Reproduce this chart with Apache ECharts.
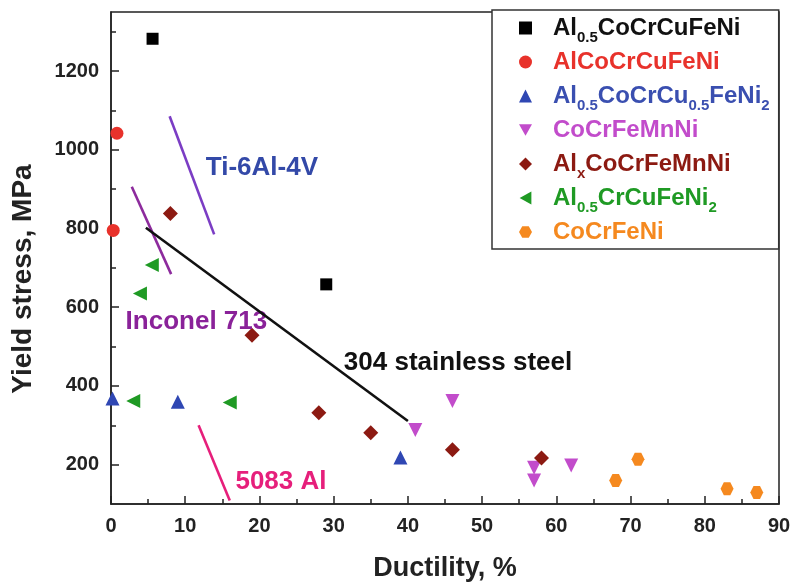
<!DOCTYPE html>
<html>
<head>
<meta charset="utf-8">
<title>Yield stress vs ductility</title>
<script src="https://cdn.jsdelivr.net/npm/echarts@6/dist/echarts.min.js"></script>
<style>
  html, body { margin: 0; padding: 0; background: #fff; }
  #chart { width: 791px; height: 582px; }
</style>
</head>
<body>
<div id="chart"></div>
<script>
// legend names, "_{..}" marks a subscript
const alloyNames = [
  'Al_{0.5}CoCrCuFeNi',
  'AlCoCrCuFeNi',
  'Al_{0.5}CoCrCu_{0.5}FeNi_{2}',
  'CoCrFeMnNi',
  'Al_{x}CoCrFeMnNi',
  'Al_{0.5}CrCuFeNi_{2}',
  'CoCrFeNi'
];

// [ductility %, yield stress MPa]
const al05CoCrCuFeNi = [[5.6, 1282], [29, 658]];
const alCoCrCuFeNi = [[0.8, 1042], [0.3, 795]];
const al05CoCrCu05FeNi2 = [[0.2, 368], [9, 360], [39, 218]];
const coCrFeMnNi = [[41, 288], [46, 362], [57, 192], [57, 160], [62, 198]];
const alxCoCrFeMnNi = [[8, 838], [19, 529], [28, 332], [35, 281], [46, 238], [58, 217]];
const al05CrCuFeNi2 = [[5.5, 707], [3.9, 635], [3, 362], [16, 358]];
const coCrFeNi = [[68, 160], [71, 214], [83, 139], [87, 129]];

// reference materials (line ends)
const refNames = ['Ti-6Al-4V', 'Inconel 713', '304 stainless steel', '5083 Al'];
const ti64Line = [[7.9, 1085], [13.9, 785]];
const inconelLine = [[2.8, 906], [8.1, 684]];
const ss304Line = [[4.7, 802], [40, 311]];
const al5083Line = [[11.8, 300], [16, 109]];
const refLabelAt = [[12.7, 954], [1.9, 563], [31.3, 458], [16.7, 156]];

const yLabelTicks = [200, 400, 600, 800, 1000, 1200];
const yMinorTicks = [300, 500, 700, 900, 1100, 1300];

const alloyData = [al05CoCrCuFeNi, alCoCrCuFeNi, al05CoCrCu05FeNi2, coCrFeMnNi,
  alxCoCrFeMnNi, al05CrCuFeNi2, coCrFeNi];
const refLines = [ti64Line, inconelLine, ss304Line, al5083Line];

const hexagon = 'path://M-1,0L-0.5,-0.866L0.5,-0.866L1,0L0.5,0.866L-0.5,0.866Z';
const triDown = 'path://M-1,-0.9L1,-0.9L0,0.9Z';
const triLeft = 'path://M0.9,-1L0.9,1L-0.9,0Z';
const alloyColors = ['#000000', '#e8322b', '#2f47b3', '#c24ccb', '#8c1a12', '#1f9a24', '#f5891f'];
const alloyTextColors = ['#111111', '#e8322b', '#3a4fb0', '#c24ccb', '#8c1a12', '#1f9a24', '#f5891f'];
const alloySymbols = ['rect', 'circle', 'triangle', triDown, 'diamond', triLeft, hexagon];
const alloySizes = [12, 13, 14, 14, 15, 14, 13];
const legendSizes = [11, 12, 13, 13, 13, 13, 12];
const refLineColors = ['#7b3dc4', '#8d2b9d', '#111111', '#e61f7b'];
const refTextColors = ['#3349a8', '#8a2299', '#111111', '#e61f7b'];

const FONT = '"Liberation Sans", Arial, sans-serif';

function richName(name, i) {
  return '{g| }' + name.split(/(_\{[^}]*\})/).filter(Boolean).map(p =>
    p.startsWith('_{') ? '{s' + i + '|' + p.slice(2, -1) + '}' : '{n' + i + '|' + p + '}'
  ).join('');
}

let rich = { g: { width: 16, lineHeight: 34, fontSize: 10 } };
alloyNames.forEach((n, i) => {
  rich['n' + i] = { color: alloyTextColors[i], fontSize: 24, fontWeight: 'bold', fontFamily: FONT, lineHeight: 34 };
  rich['s' + i] = { color: alloyTextColors[i], fontSize: 15, fontWeight: 'bold', fontFamily: FONT,
    lineHeight: 15, verticalAlign: 'bottom' };
});

let series = [];
refLines.forEach((d, i) => {
  series.push({
    type: 'line',
    name: refNames[i],
    data: d,
    symbol: 'none',
    silent: true,
    lineStyle: { color: refLineColors[i], width: 2.6 }
  });
});
alloyNames.forEach((n, i) => {
  series.push({
    type: 'scatter',
    name: n,
    data: alloyData[i],
    symbol: alloySymbols[i],
    symbolSize: alloySizes[i],
    itemStyle: { color: alloyColors[i], opacity: 1 }
  });
});
series.push({
  type: 'scatter',
  name: 'labels',
  silent: true,
  symbolSize: 1,
  itemStyle: { color: 'rgba(0,0,0,0)' },
  data: refLabelAt.map((p, i) => ({
    value: p,
    label: { formatter: refNames[i], color: refTextColors[i] }
  })),
  label: {
    show: true,
    position: 'right',
    distance: 0,
    verticalAlign: 'middle',
    fontSize: 26,
    fontWeight: 'bold',
    fontFamily: FONT,
    textBorderWidth: 0,
    opacity: 1
  }
});

const axisColor = '#222';
let chart = echarts.init(document.getElementById('chart'));
chart.setOption({
  animation: false,
  backgroundColor: '#fff',
  grid: {
    left: 111, right: 12, top: 12, bottom: 78,
    outerBoundsMode: 'none',
    containLabel: false,
    show: true, borderColor: axisColor, borderWidth: 1.5
  },
  legend: {
    orient: 'vertical',
    left: 492,
    top: 10,
    padding: [1, 9, 0, 27],
    itemGap: 0,
    itemWidth: 13,
    itemHeight: 13,
    backgroundColor: '#fff',
    borderColor: '#333',
    borderWidth: 1.5,
    borderRadius: 0,
    data: alloyNames.map((n, i) => ({ name: n, icon: alloySymbols[i] })),
    formatter: name => richName(name, alloyNames.indexOf(name)),
    textStyle: { lineHeight: 34, height: 34, rich: rich }
  },
  xAxis: {
    type: 'value',
    min: 0,
    max: 90,
    interval: 10,
    name: 'Ductility, %',
    nameLocation: 'middle',
    nameGap: 51,
    nameTextStyle: { fontSize: 27, fontWeight: 'bold', color: axisColor, fontFamily: FONT },
    axisLine: { lineStyle: { color: axisColor, width: 1.5 } },
    axisTick: { inside: true, length: 8, lineStyle: { color: axisColor, width: 1.5 } },
    minorTick: { show: true, splitNumber: 2, length: 5, lineStyle: { color: axisColor, width: 1.5 } },
    axisLabel: { margin: 12, fontSize: 20, fontWeight: 'bold', color: axisColor, fontFamily: FONT },
    splitLine: { show: false }
  },
  yAxis: [{
    type: 'value',
    min: 100,
    max: 1350,
    name: 'Yield stress, MPa',
    nameLocation: 'middle',
    nameGap: 74,
    nameTextStyle: { fontSize: 28, fontWeight: 'bold', color: axisColor, fontFamily: FONT, padding: [0, 42, 0, 0] },
    axisLine: { lineStyle: { color: axisColor, width: 1.5 } },
    axisTick: { inside: true, length: 8, customValues: yLabelTicks, lineStyle: { color: axisColor, width: 1.5 } },
    axisLabel: {
      margin: 12, customValues: yLabelTicks, formatter: v => String(v),
      fontSize: 20, fontWeight: 'bold', color: axisColor, fontFamily: FONT
    },
    splitLine: { show: false }
  }, {
    type: 'value',
    min: 100,
    max: 1350,
    position: 'left',
    axisLine: { show: false },
    axisTick: { inside: true, length: 5, customValues: yMinorTicks, lineStyle: { color: axisColor, width: 1.5 } },
    axisLabel: { show: false },
    splitLine: { show: false }
  }],
  series: series
});
</script>
</body>
</html>
